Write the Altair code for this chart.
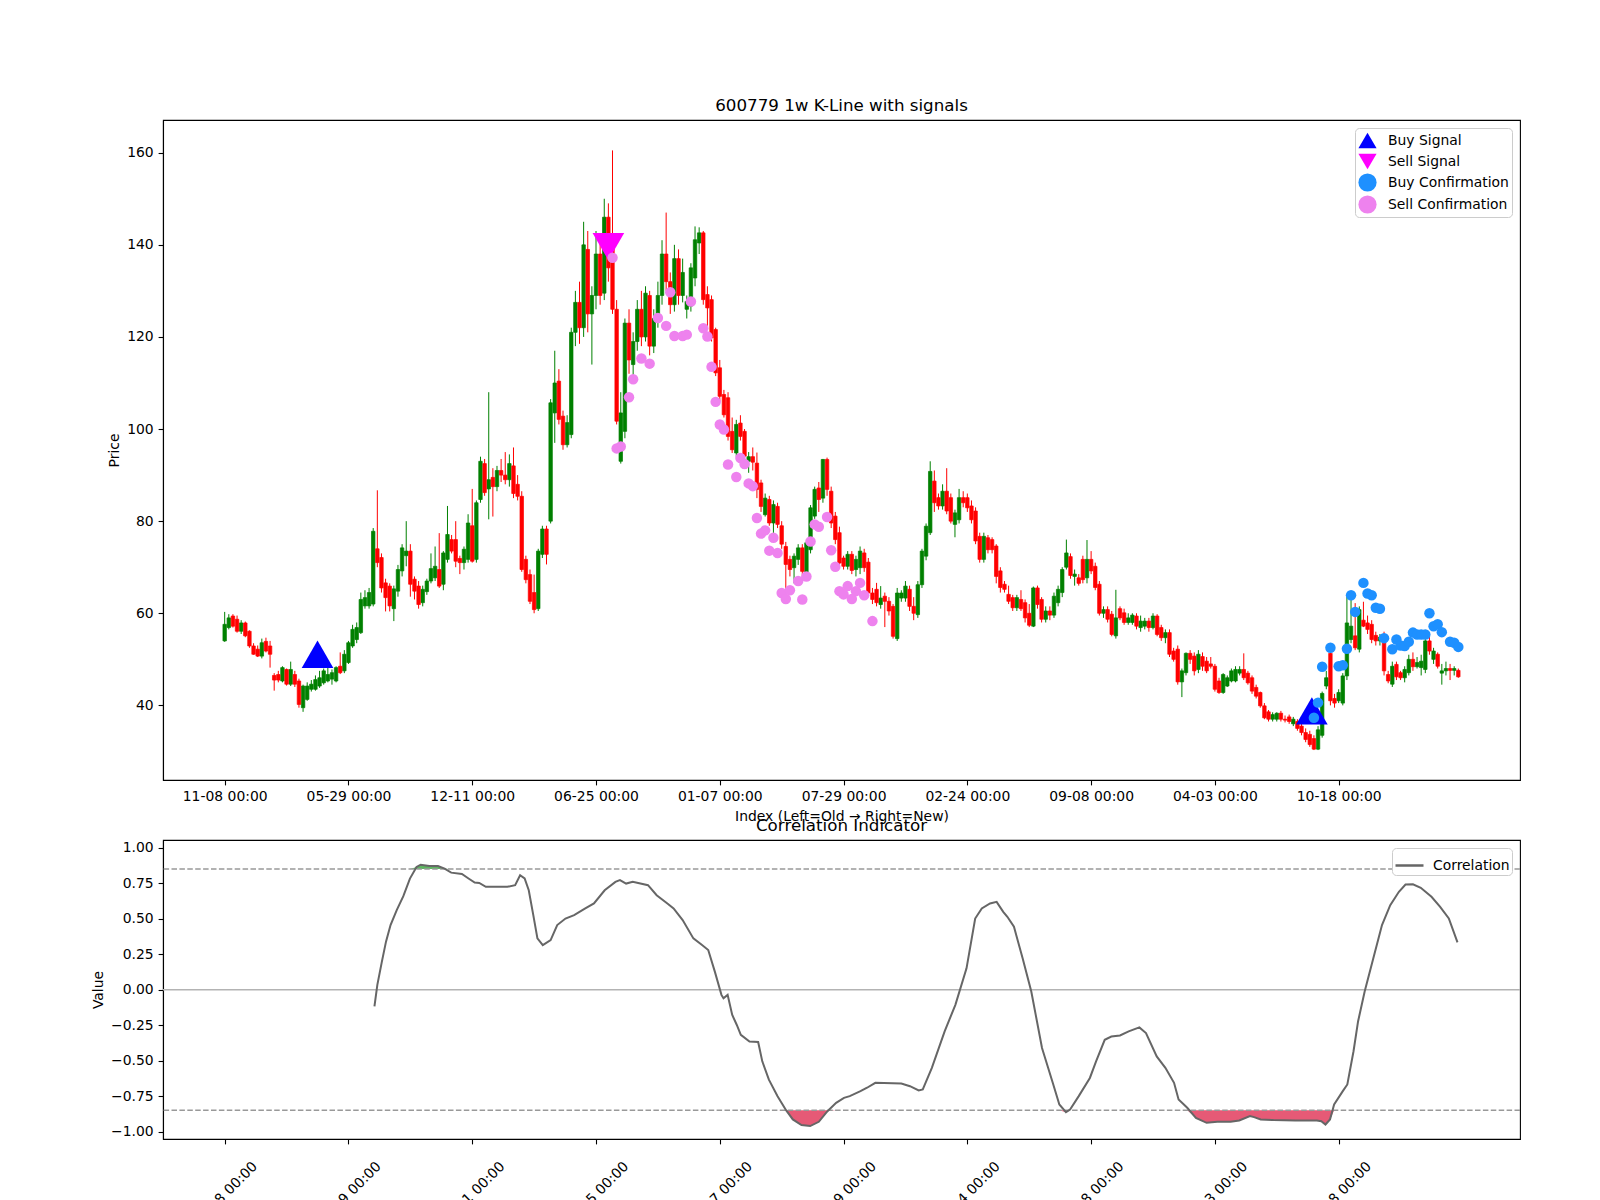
import altair as alt
import pandas as pd

FONT = "DejaVu Sans"
FS = 13.9

tick_values = [0, 30, 60, 90, 120, 150, 180, 210, 240, 270]
tick_labels = ["11-08 00:00", "05-29 00:00", "12-11 00:00", "06-25 00:00", "01-07 00:00",
               "07-29 00:00", "02-24 00:00", "09-08 00:00", "04-03 00:00", "10-18 00:00"]

opens = [
    54.0, 56.9, 59.4, 58.7, 56.1, 57.9, 56.1, 52.9, 52.2, 50.7,
    53.9, 52.9, 46.5, 46.7, 45.3, 47.8, 44.6, 46.7, 45.3, 39.5,
    41.3, 43.5, 43.5, 44.2, 44.9, 45.3, 45.7, 45.3, 48.5, 47.5,
    49.3, 52.9, 54.3, 55.8, 61.6, 61.6, 62.0, 74.0, 72.1, 66.6,
    65.9, 61.0, 64.8, 69.2, 72.5, 73.5, 67.4, 65.9, 62.3, 64.7,
    67.0, 67.7, 69.5, 66.3, 71.7, 76.0, 76.0, 71.9, 71.0, 71.7,
    79.0, 71.7, 84.7, 92.5, 87.0, 89.5, 87.5, 91.0, 90.0, 89.0,
    92.0, 88.0, 85.4, 71.7, 68.4, 64.5, 61.0, 72.8, 78.3, 80.0,
    103.5, 110.4, 102.8, 96.6, 98.8, 121.0, 127.5, 122.0, 139.0, 125.0,
    129.0, 138.0, 129.5, 146.0, 141.0, 126.0, 93.0, 99.5, 123.0, 114.0,
    119.0, 126.0, 120.0, 129.0, 118.0, 124.0, 129.0, 138.0, 132.0, 127.0,
    137.0, 129.0, 126.0, 126.7, 132.8, 140.4, 142.6, 129.2, 128.1, 121.6,
    113.3, 107.5, 106.8, 99.5, 94.8, 101.3, 99.5, 93.0, 94.0, 92.6,
    88.3, 81.4, 84.7, 79.6, 83.2, 79.0, 74.5, 71.7, 69.9, 71.7,
    74.2, 68.8, 73.8, 81.1, 87.2, 85.0, 93.4, 86.5, 81.1, 77.5,
    72.0, 70.2, 72.8, 69.5, 69.9, 73.1, 71.1, 64.4, 65.2, 61.9,
    63.7, 62.6, 61.5, 54.5, 63.3, 63.3, 65.2, 61.5, 59.7, 66.2,
    72.4, 77.5, 88.7, 85.1, 83.3, 86.5, 85.1, 79.3, 80.3, 85.1,
    85.1, 83.3, 82.2, 76.7, 71.7, 76.4, 76.0, 74.6, 69.2, 66.3,
    64.1, 63.4, 61.2, 63.0, 62.3, 60.0, 57.2, 65.5, 63.0, 58.7,
    60.5, 59.6, 62.3, 64.5, 70.0, 72.3, 68.0, 67.7, 71.7, 67.7,
    71.7, 70.2, 66.3, 60.0, 60.8, 59.8, 55.1, 61.0, 60.1, 58.0,
    58.0, 59.4, 56.9, 57.2, 58.3, 56.9, 59.4, 56.9, 54.7, 55.8,
    51.8, 52.2, 45.1, 47.1, 51.3, 50.7, 47.8, 50.6, 49.6, 49.0,
    48.5, 45.3, 42.8, 44.2, 45.3, 45.3, 47.0, 47.8, 47.0, 46.0,
    43.9, 42.8, 39.9, 38.6, 37.0, 37.0, 38.3, 37.0, 37.5, 36.0,
    36.5, 35.5, 34.1, 33.7, 32.8, 30.5, 33.5, 44.2, 51.3, 41.5,
    41.0, 40.5, 46.4, 54.3, 55.1, 52.2, 58.5, 57.9, 57.6, 55.2,
    54.0, 55.4, 46.7, 44.6, 48.9, 47.1, 46.0, 47.1, 50.0, 48.4,
    48.2, 47.8, 54.0, 50.0, 51.1, 47.0, 47.5, 48.0, 47.6, 47.6,
]
highs = [
    60.3, 59.8, 59.8, 59.5, 58.5, 58.2, 56.3, 53.5, 53.0, 54.5,
    54.7, 54.0, 47.0, 47.5, 48.5, 48.0, 49.5, 47.5, 45.8, 44.5,
    45.0, 45.5, 46.5, 47.5, 48.0, 49.0, 47.8, 48.5, 51.5, 52.0,
    54.0, 57.5, 58.0, 64.5, 65.0, 65.5, 78.5, 86.7, 73.0, 67.5,
    66.5, 66.0, 70.5, 75.0, 80.0, 75.0, 68.0, 67.0, 66.0, 67.5,
    73.0, 74.5, 77.4, 73.5, 83.3, 77.0, 80.0, 72.5, 74.5, 81.5,
    87.0, 84.5, 94.0, 93.5, 108.0, 91.5, 92.0, 93.5, 95.0, 94.5,
    96.0, 90.0, 86.5, 72.5, 69.5, 68.4, 74.0, 79.0, 79.0, 106.5,
    117.0, 113.0, 104.0, 103.0, 122.0, 130.0, 132.0, 145.0, 143.0, 131.0,
    143.0, 141.0, 150.0, 149.0, 160.5, 128.0, 108.0, 124.0, 126.0, 121.0,
    128.0, 130.0, 131.0, 130.0, 126.0, 132.0, 141.0, 147.0, 134.0, 140.0,
    139.0, 137.0, 129.0, 136.0, 144.0, 143.8, 143.0, 131.0, 129.0, 122.0,
    115.0, 108.5, 108.0, 102.5, 102.0, 103.0, 100.0, 95.0, 96.0, 94.9,
    89.0, 86.0, 85.5, 84.5, 84.0, 80.0, 75.5, 72.5, 73.0, 75.0,
    75.0, 76.0, 83.5, 87.5, 88.5, 93.5, 93.8, 87.5, 82.0, 78.8,
    72.5, 73.5, 73.5, 72.5, 74.5, 74.0, 72.0, 65.5, 66.6, 65.9,
    64.5, 63.5, 62.0, 65.5, 65.0, 67.0, 66.0, 63.5, 67.0, 74.0,
    79.5, 93.0, 91.0, 86.0, 88.0, 91.5, 86.0, 82.5, 87.0, 86.5,
    86.0, 84.5, 83.0, 77.5, 77.5, 77.0, 76.5, 75.0, 70.0, 67.0,
    66.0, 64.0, 64.0, 65.0, 63.0, 62.0, 65.8, 66.0, 63.5, 61.5,
    61.5, 64.5, 66.0, 70.0, 76.0, 73.0, 69.5, 68.5, 72.5, 75.9,
    73.5, 71.0, 67.0, 61.5, 61.5, 60.5, 65.1, 61.5, 61.0, 60.0,
    60.0, 60.0, 59.5, 59.0, 59.0, 60.0, 59.8, 57.5, 56.5, 56.5,
    52.5, 53.0, 48.0, 51.5, 52.0, 51.5, 52.0, 51.5, 50.5, 50.5,
    49.0, 46.0, 47.0, 46.5, 48.0, 48.5, 48.5, 51.3, 47.5, 46.5,
    44.5, 43.0, 40.5, 39.0, 38.5, 38.5, 38.8, 37.8, 38.0, 37.5,
    37.0, 36.5, 35.0, 34.5, 33.5, 35.5, 43.0, 47.5, 52.0, 42.5,
    43.5, 47.0, 63.6, 63.3, 62.2, 61.5, 62.5, 59.5, 58.5, 56.0,
    55.5, 56.0, 47.5, 49.5, 49.5, 47.5, 48.5, 51.0, 51.5, 50.5,
    51.0, 54.5, 55.5, 52.5, 51.5, 49.0, 49.5, 49.0, 48.5, 48.0,
]
lows = [
    53.8, 56.5, 56.9, 55.8, 55.5, 54.8, 52.5, 51.0, 50.5, 50.2,
    51.5, 48.2, 43.2, 45.0, 45.0, 44.3, 44.2, 44.0, 39.5, 38.6,
    41.0, 43.0, 43.2, 43.8, 44.5, 45.0, 44.5, 45.0, 46.8, 47.0,
    49.0, 52.5, 53.5, 55.5, 61.0, 61.0, 61.5, 70.0, 64.5, 60.4,
    60.4, 58.3, 63.6, 68.0, 70.2, 63.6, 63.0, 61.0, 61.5, 64.0,
    66.5, 67.0, 65.5, 65.0, 71.0, 73.0, 70.0, 68.5, 69.5, 71.0,
    71.0, 71.0, 84.0, 85.5, 80.4, 81.0, 86.5, 88.5, 88.0, 87.5,
    85.0, 84.5, 69.0, 66.5, 62.0, 60.0, 60.5, 72.0, 70.6, 79.5,
    97.0, 101.0, 95.5, 96.0, 98.0, 118.0, 118.5, 120.0, 121.0, 114.0,
    126.0, 127.0, 128.0, 132.0, 125.0, 101.0, 92.5, 98.0, 112.0, 110.0,
    117.0, 118.0, 119.0, 116.0, 116.5, 122.0, 127.0, 130.0, 125.0, 125.5,
    127.0, 127.5, 124.0, 125.5, 131.0, 138.0, 127.0, 121.6, 119.0, 111.5,
    106.0, 102.5, 97.5, 94.8, 94.0, 97.5, 93.5, 90.5, 91.0, 85.0,
    82.0, 81.0, 79.0, 75.5, 78.5, 74.0, 64.5, 68.0, 66.5, 70.5,
    67.5, 68.0, 73.0, 80.5, 82.0, 84.0, 85.5, 78.5, 75.0, 70.0,
    69.5, 69.5, 68.5, 68.0, 68.5, 69.0, 63.5, 62.0, 61.5, 61.0,
    57.0, 59.5, 54.5, 54.0, 62.5, 62.5, 60.5, 58.5, 59.0, 65.5,
    71.5, 77.0, 82.0, 82.5, 82.5, 81.5, 79.5, 76.5, 79.5, 83.0,
    82.0, 79.5, 75.0, 71.0, 71.0, 73.0, 73.0, 66.5, 64.5, 64.5,
    62.0, 60.5, 60.5, 60.5, 58.0, 57.0, 57.0, 61.0, 58.0, 58.0,
    58.5, 59.0, 61.5, 63.5, 69.5, 67.5, 66.0, 66.0, 66.5, 66.5,
    68.5, 65.0, 59.5, 59.0, 58.0, 55.0, 54.5, 58.5, 57.5, 57.5,
    57.5, 56.5, 56.0, 56.5, 56.0, 56.5, 55.0, 54.0, 53.5, 50.5,
    49.5, 44.5, 41.8, 46.5, 49.0, 46.5, 47.0, 47.5, 47.0, 48.0,
    43.0, 42.5, 42.5, 44.0, 45.0, 45.0, 46.5, 45.5, 44.5, 42.5,
    41.5, 39.5, 37.0, 36.5, 36.5, 36.5, 36.5, 36.3, 36.0, 35.5,
    34.5, 33.5, 32.0, 31.0, 30.3, 30.3, 33.0, 43.5, 40.0, 39.5,
    40.5, 40.0, 45.5, 53.5, 52.0, 51.5, 57.0, 55.5, 53.5, 53.0,
    53.0, 46.5, 44.8, 44.0, 45.5, 45.5, 45.0, 46.5, 47.5, 48.0,
    46.5, 47.0, 51.0, 49.0, 48.0, 44.5, 46.5, 45.5, 46.5, 46.0,
]
closes = [
    57.6, 59.0, 57.2, 56.1, 57.9, 55.1, 52.9, 51.1, 50.7, 53.6,
    51.8, 51.1, 45.5, 45.5, 48.2, 44.6, 47.8, 44.6, 40.2, 44.2,
    44.2, 44.6, 45.6, 46.0, 47.5, 46.7, 47.1, 48.2, 47.1, 51.1,
    53.6, 56.5, 56.9, 63.0, 63.4, 64.5, 77.8, 71.0, 65.5, 63.4,
    61.6, 65.3, 69.5, 74.2, 73.5, 66.3, 64.8, 61.9, 65.2, 67.0,
    69.7, 70.2, 65.9, 73.1, 77.1, 73.5, 71.3, 71.0, 73.9, 79.6,
    71.3, 84.0, 93.0, 86.2, 89.0, 87.5, 91.0, 90.0, 89.0, 92.5,
    86.0, 85.4, 69.5, 67.3, 62.6, 60.8, 73.5, 78.3, 72.8, 105.7,
    110.0, 102.1, 96.6, 101.4, 121.0, 127.5, 122.0, 140.0, 125.0, 129.0,
    138.0, 129.0, 146.0, 135.0, 126.0, 101.7, 103.5, 123.0, 115.0, 119.0,
    126.0, 120.0, 129.5, 118.0, 124.0, 129.0, 138.0, 132.0, 127.0, 137.0,
    129.0, 134.0, 127.7, 135.0, 141.1, 142.6, 128.1, 126.3, 119.8, 112.2,
    107.1, 103.1, 98.4, 95.5, 101.0, 98.4, 94.1, 94.0, 92.8, 86.9,
    83.2, 85.0, 79.6, 83.6, 79.3, 75.0, 70.6, 69.5, 72.4, 74.2,
    69.1, 75.3, 82.9, 86.9, 84.7, 93.4, 86.9, 79.6, 76.0, 70.9,
    70.2, 72.8, 69.3, 71.7, 73.5, 69.9, 64.4, 63.0, 62.3, 63.3,
    62.6, 60.5, 55.0, 64.4, 64.4, 65.9, 61.5, 60.0, 66.2, 73.5,
    78.9, 90.8, 84.0, 83.3, 86.5, 82.2, 80.0, 81.8, 85.1, 84.0,
    82.9, 80.3, 75.7, 71.7, 76.7, 73.8, 73.8, 68.0, 65.6, 65.2,
    62.6, 61.2, 63.4, 61.0, 59.0, 57.4, 65.5, 61.9, 58.7, 60.5,
    59.6, 63.7, 65.2, 69.5, 73.1, 68.2, 68.5, 66.5, 67.3, 71.7,
    69.2, 65.6, 60.0, 60.8, 58.7, 55.4, 59.0, 59.0, 58.0, 59.0,
    59.6, 57.2, 58.3, 58.3, 56.9, 59.4, 55.4, 54.7, 55.8, 51.1,
    50.0, 45.1, 47.5, 51.3, 50.0, 47.5, 51.1, 48.5, 47.5, 48.5,
    43.5, 42.8, 46.7, 46.0, 47.5, 47.8, 47.8, 46.0, 44.9, 43.1,
    42.0, 39.9, 37.3, 37.0, 38.0, 38.3, 37.0, 36.8, 36.5, 37.0,
    35.0, 34.1, 32.6, 31.5, 30.5, 34.7, 42.6, 46.0, 41.0, 40.5,
    42.8, 46.4, 57.9, 57.2, 52.5, 60.8, 57.2, 56.5, 54.3, 54.0,
    54.8, 47.5, 45.3, 48.5, 46.2, 46.0, 47.8, 50.0, 48.4, 49.3,
    49.6, 54.0, 51.8, 51.8, 48.5, 47.5, 48.0, 47.6, 48.0, 46.2,
]

buy_signal_idx = [22.5, 263.5]
buy_signal_price = [51.1, 38.8]
sell_signal_idx = [93]
sell_signal_price = [139.6]

buy_conf_idx = [264, 265, 266, 268, 270, 271, 272, 273, 274, 276, 277, 278, 279, 280, 281,
                283, 284, 285, 286, 287, 288, 289, 290, 291, 292, 293, 294, 295, 297, 298, 299]
buy_conf_price = [37.3, 40.6, 48.4, 52.5, 48.5, 48.7, 52.3, 63.9, 60.3, 66.6, 64.3, 63.9, 61.2, 61.0, 54.6,
                  52.2, 54.3, 53.0, 52.9, 53.8, 55.8, 55.4, 55.4, 55.4, 60.0, 57.2, 57.6, 55.9, 53.8, 53.6, 52.7]

sell_conf_idx = [94, 95, 96, 98, 99, 101, 103, 105, 107, 108, 109, 111, 112, 113, 116, 117, 118, 119,
                 120, 121, 122, 124, 125, 126, 127, 128, 129, 130, 131, 132, 133, 134, 135, 136, 137,
                 139, 140, 141, 142, 143, 144, 146, 147, 148, 149, 150, 151, 152, 153, 154, 155, 157]
sell_conf_price = [137.2, 95.8, 96.2, 106.9, 110.8, 115.3, 114.2, 124.1, 122.4, 129.7, 120.2, 120.2,
                   120.5, 127.7, 121.9, 120.1, 113.5, 105.9, 101.0, 99.9, 92.3, 89.6, 93.7, 92.4, 88.2,
                   87.6, 80.7, 77.3, 78.0, 73.6, 76.4, 73.1, 64.4, 63.1, 65.0, 67.0, 63.0, 68.0, 75.6,
                   79.3, 78.8, 80.9, 73.7, 70.1, 64.8, 64.1, 65.9, 63.1, 64.8, 66.6, 63.9, 58.3]

corr_idx = [36.3, 37.0, 38.1, 39.1, 40.2, 41.7, 43.3, 44.9, 46.5, 47.5, 49.6, 51.7, 53.3, 54.9, 57.5,
            59.1, 60.6, 61.7, 63.3, 68.5, 70.4, 71.6, 72.7, 73.7, 74.8, 75.8, 77.1, 79.0, 80.6, 82.6,
            84.7, 87.4, 89.5, 92.1, 94.7, 95.8, 97.3, 98.9, 102.6, 104.7, 107.3, 108.8, 111.0, 113.6,
            115.7, 117.2, 118.8, 120.4, 120.9, 121.9, 123.0, 124.1, 125.1, 127.2, 129.3, 130.3, 131.9,
            134.0, 136.1, 137.7, 139.8, 141.9, 144.0, 146.1, 148.2, 150.1, 151.5, 154.1, 155.7, 157.7,
            164.0, 166.1, 168.2, 169.2, 171.4, 174.5, 177.1, 179.8, 181.9, 183.5, 185.5, 187.1, 188.7,
            189.7, 191.3, 193.4, 195.5, 198.1, 200.7, 202.3, 203.9, 204.9, 207.0, 209.7, 211.2, 213.3,
            214.9, 217.0, 219.1, 221.7, 223.3, 225.9, 228.0, 230.1, 231.2, 233.3, 235.4, 238.0, 240.6,
            243.8, 245.9, 248.5, 249.5, 251.1, 254.2, 259.5, 264.7, 265.8, 266.8, 267.9, 268.9, 271.0,
            272.1, 273.6, 274.7, 276.3, 278.4, 280.5, 282.5, 284.6, 286.2, 288.0, 289.9, 292.5, 294.6,
            296.7, 298.8]
corr_val = [-0.118, 0.034, 0.197, 0.338, 0.455, 0.560, 0.658, 0.782, 0.864, 0.880, 0.871, 0.871, 0.852,
            0.824, 0.815, 0.783, 0.754, 0.752, 0.724, 0.724, 0.736, 0.806, 0.783, 0.700, 0.525, 0.361,
            0.314, 0.349, 0.455, 0.501, 0.525, 0.572, 0.607, 0.700, 0.759, 0.771, 0.747, 0.759, 0.736,
            0.665, 0.607, 0.572, 0.490, 0.361, 0.314, 0.279, 0.127, -0.037, -0.061, -0.037, -0.177,
            -0.247, -0.318, -0.365, -0.369, -0.505, -0.634, -0.751, -0.851, -0.914, -0.954, -0.961,
            -0.931, -0.856, -0.797, -0.762, -0.750, -0.715, -0.691, -0.656, -0.661, -0.680, -0.710,
            -0.703, -0.551, -0.294, -0.107, 0.150, 0.501, 0.572, 0.607, 0.618, 0.548, 0.513, 0.443,
            0.221, -0.013, -0.411, -0.656, -0.809, -0.863, -0.844, -0.750, -0.622, -0.505, -0.353,
            -0.330, -0.323, -0.294, -0.266, -0.306, -0.470, -0.551, -0.656, -0.773, -0.832, -0.903,
            -0.938, -0.931, -0.931, -0.922, -0.891, -0.898, -0.914, -0.919, -0.922, -0.922, -0.927,
            -0.950, -0.914, -0.809, -0.715, -0.668, -0.434, -0.224, -0.013, 0.221, 0.455, 0.595,
            0.689, 0.740, 0.742, 0.717, 0.654, 0.583, 0.501, 0.333]
thresholds = [0.85, -0.85]

# ---------------- data tables ----------------
n = len(closes)
candles = pd.DataFrame({"idx": list(range(n)), "open": opens, "high": highs,
                        "low": lows, "close": closes})
candles["high"] = candles[["high", "open", "close"]].max(axis=1)
candles["low"] = candles[["low", "open", "close"]].min(axis=1)
candles["x_lo"] = candles["idx"] - 0.42
candles["x_hi"] = candles["idx"] + 0.42
up = candles[candles["close"] >= candles["open"]]
down = candles[candles["close"] < candles["open"]]

marker_types = ["Buy Signal", "Sell Signal", "Buy Confirmation", "Sell Confirmation"]
signals = pd.DataFrame({
    "idx": buy_signal_idx + sell_signal_idx,
    "price": buy_signal_price + sell_signal_price,
    "type": ["Buy Signal"] * len(buy_signal_idx) + ["Sell Signal"] * len(sell_signal_idx),
})
confirms = pd.DataFrame({
    "idx": buy_conf_idx + sell_conf_idx,
    "price": buy_conf_price + sell_conf_price,
    "type": ["Buy Confirmation"] * len(buy_conf_idx) + ["Sell Confirmation"] * len(sell_conf_idx),
})

corr = pd.DataFrame({"idx": corr_idx, "value": corr_val})
corr["series"] = "Correlation"
corr["lo"] = corr["value"].clip(upper=thresholds[1])
corr["hi"] = corr["value"].clip(lower=thresholds[0])
corr["thr_lo"] = thresholds[1]
corr["thr_hi"] = thresholds[0]

# ---------------- scales / axes ----------------
label_expr = "[" + ",".join("'" + t + "'" for t in tick_labels) + "][round(datum.value / 30)]"
xs = alt.Scale(domain=[-14.95, 313.95], nice=False, zero=False)
ys_top = alt.Scale(domain=[23.8, 167.1], nice=False, zero=False)
ys_bot = alt.Scale(domain=[-1.052, 1.054], nice=False, zero=False)

x_axis_top = alt.Axis(values=tick_values, labelExpr=label_expr,
                      title="Index (Left=Old \u2192 Right=New)", labelOverlap=False, labelFlush=False)
y_axis_top = alt.Axis(values=[40, 60, 80, 100, 120, 140, 160], title="Price", format="d")
x_axis_bot = alt.Axis(values=tick_values, labelExpr=label_expr, title=None, labelAngle=315,
                      labelAlign="center", labelBaseline="middle", labelPadding=50,
                      labelOverlap=False, labelFlush=False)
y_axis_bot = alt.Axis(values=[-1, -0.75, -0.5, -0.25, 0, 0.25, 0.5, 0.75, 1], format=".2f",
                      title="Value")

UP, DOWN = "#008000", "#ff0000"


def wicks(df, color):
    return alt.Chart(df).mark_rule(color=color, strokeWidth=1).encode(
        x=alt.X("idx:Q", scale=xs, axis=x_axis_top),
        y=alt.Y("low:Q", scale=ys_top, axis=y_axis_top),
        y2="high:Q",
    )


def bodies(df, color):
    return alt.Chart(df).mark_rect(color=color, stroke=color, strokeWidth=0.7).encode(
        x=alt.X("x_lo:Q", scale=xs, axis=x_axis_top),
        x2="x_hi:Q",
        y=alt.Y("open:Q", scale=ys_top, axis=y_axis_top),
        y2="close:Q",
    )


legend_top = alt.Legend(title=None, orient="top-right", offset=8, padding=3,
                        strokeColor="#cccccc", fillColor="white", cornerRadius=4,
                        labelFont=FONT, labelFontSize=FS, labelColor="black",
                        rowPadding=3, labelOffset=11, symbolStrokeWidth=0, symbolSize=330)
color_enc = alt.Color("type:N", scale=alt.Scale(domain=marker_types,
                      range=["#0000ff", "#ff00ff", "#1e90ff", "#ee82ee"]), legend=legend_top)
shape_enc = alt.Shape("type:N", scale=alt.Scale(domain=marker_types,
                      range=["triangle-up", "triangle-down", "circle", "circle"]), legend=legend_top)


def marker_layer(df, size):
    return alt.Chart(df).mark_point(filled=True, opacity=1, size=size).encode(
        x=alt.X("idx:Q", scale=xs, axis=x_axis_top),
        y=alt.Y("price:Q", scale=ys_top, axis=y_axis_top),
        color=color_enc,
        shape=shape_enc,
    )


top = alt.layer(
    wicks(up, UP), wicks(down, DOWN), bodies(up, UP), bodies(down, DOWN),
    marker_layer(signals, 1000), marker_layer(confirms, 110)
).properties(
    width=1357, height=660,
    title=alt.TitleParams("600779 1w K-Line with signals", fontSize=16.7, font=FONT,
                          fontWeight="normal", color="black", offset=-8,
                          baseline="alphabetic", anchor="middle"),
)

xb = alt.X("idx:Q", scale=xs, axis=x_axis_bot)

fill_red = alt.Chart(corr).mark_area(color="#e65a76", opacity=1).encode(
    x=xb, y=alt.Y("lo:Q", scale=ys_bot, axis=y_axis_bot), y2="thr_lo:Q")
fill_green = alt.Chart(corr).mark_area(color="#4caf50", opacity=0.9).encode(
    x=xb, y=alt.Y("hi:Q", scale=ys_bot, axis=y_axis_bot), y2="thr_hi:Q")
zero_line = alt.Chart(pd.DataFrame({"y": [0.0]})).mark_rule(color="#b3b3b3", strokeWidth=1.5).encode(
    y=alt.Y("y:Q", scale=ys_bot, axis=y_axis_bot))
dash_lines = alt.Chart(pd.DataFrame({"y": thresholds})).mark_rule(
    color="#999999", strokeWidth=1.5, strokeDash=[5.5, 2.4]).encode(
    y=alt.Y("y:Q", scale=ys_bot, axis=y_axis_bot))
corr_line = alt.Chart(corr).mark_line(strokeWidth=2).encode(
    x=xb,
    y=alt.Y("value:Q", scale=ys_bot, axis=y_axis_bot),
    color=alt.Color("series:N", scale=alt.Scale(domain=["Correlation"], range=["#666666"]),
                    legend=alt.Legend(title=None, orient="top-right", offset=8, padding=2,
                                      strokeColor="#cccccc", fillColor="white", cornerRadius=4,
                                      labelFont=FONT, labelFontSize=FS, labelColor="black",
                                      symbolType="stroke", symbolStrokeWidth=2.5,
                                      symbolSize=784, labelOffset=8)),
)

bottom = alt.layer(fill_red, fill_green, zero_line, dash_lines, corr_line).properties(
    width=1357, height=299,
    title=alt.TitleParams("Correlation Indicator", fontSize=16.7, font=FONT,
                          fontWeight="normal", color="black", offset=-8,
                          baseline="alphabetic", anchor="middle"),
)

chart = alt.vconcat(top, bottom, spacing=60, bounds="flush").resolve_scale(
    color="independent", shape="independent"
).resolve_legend(
    color="independent", shape="independent"
).properties(
    padding={"left": 82, "top": 89, "right": 20, "bottom": 20}
).configure(background="white").configure_view(
    stroke="black", strokeWidth=1.1
).configure_axis(
    domainColor="black", domainWidth=1.1, tickColor="black", tickWidth=1.1, tickSize=4.9,
    labelFont=FONT, labelFontSize=FS, labelColor="black", labelPadding=4.9,
    titleFont=FONT, titleFontSize=FS, titleFontWeight="normal", titleColor="black",
    titlePadding=5.6, grid=False,
)

chart.save("out.html", embed_options={"renderer": "svg", "actions": False})
